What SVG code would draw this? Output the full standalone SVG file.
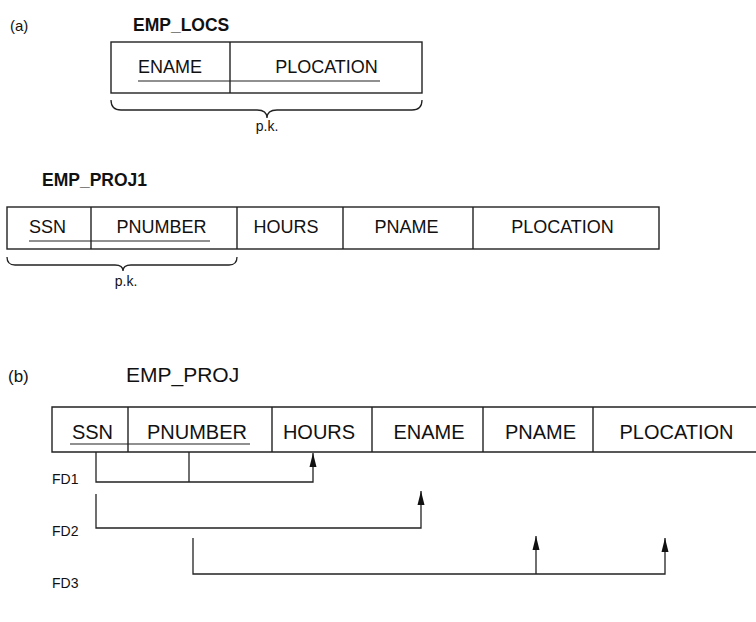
<svg xmlns="http://www.w3.org/2000/svg" width="756" height="622" viewBox="0 0 756 622">
<style>
  text { font-family: "Liberation Sans", Arial, sans-serif; fill: #111; }
  .title { font-weight: bold; font-size: 17.5px; }
  .lbl { font-size: 15px; }
  .a { font-size: 18px; text-anchor: middle; }
  .b { font-size: 20px; text-anchor: middle; }
  .fd { font-size: 14px; }
  .pk { font-size: 14px; text-anchor: middle; }
  .box { fill: none; stroke: #222; stroke-width: 1.4; }
  .ul { fill: none; stroke: #222; stroke-width: 1.2; }
  .conn { fill: none; stroke: #222; stroke-width: 1.3; }
</style>
<defs>
  <marker id="arr" viewBox="0 0 14 8" markerWidth="14" markerHeight="8" refX="14" refY="4" orient="auto" markerUnits="userSpaceOnUse">
    <path d="M0,0.5 L14,4 L0,7.5 z" fill="#111"/>
  </marker>
</defs>
<rect width="756" height="622" fill="#fff"/>

<text class="lbl" x="10" y="31">(a)</text>
<text class="lbl" x="8" y="382" style="font-size:17px">(b)</text>

<g id="emp_locs">
  <text class="title" x="133" y="31">EMP_LOCS</text>
  <rect class="box" x="111" y="42" width="311" height="51"/>
  <line class="box" x1="230" y1="42" x2="230" y2="93"/>
  <text class="a" x="170" y="73">ENAME</text>
  <text class="a" x="326.5" y="73">PLOCATION</text>
  <line class="ul" x1="138" y1="81" x2="380" y2="81"/>
  <path class="conn" d="M111,100 Q111,110 121,110 L257,110 Q267,110 267,118 Q267,110 277,110 L412,110 Q422,110 422,100"/>
  <text class="pk" x="267" y="131">p.k.</text>
</g>

<g id="emp_proj1">
  <text class="title" x="42" y="186">EMP_PROJ1</text>
  <rect class="box" x="7" y="207" width="652" height="42"/>
  <line class="box" x1="91" y1="207" x2="91" y2="249"/>
  <line class="box" x1="237" y1="207" x2="237" y2="249"/>
  <line class="box" x1="343" y1="207" x2="343" y2="249"/>
  <line class="box" x1="473" y1="207" x2="473" y2="249"/>
  <text class="a" x="47.5" y="233">SSN</text>
  <text class="a" x="161.5" y="233">PNUMBER</text>
  <text class="a" x="286" y="233">HOURS</text>
  <text class="a" x="406.5" y="233">PNAME</text>
  <text class="a" x="562.5" y="233">PLOCATION</text>
  <line class="ul" x1="29" y1="241" x2="210" y2="241"/>
  <path class="conn" d="M7,257 Q7,265 15,265 L115,265 Q123,265 123,271 Q123,265 131,265 L229,265 Q237,265 237,257"/>
  <text class="pk" x="126" y="286">p.k.</text>
</g>

<g id="emp_proj">
  <text x="126" y="382" style="font-size:21px">EMP_PROJ</text>
  <path class="box" d="M758,407 H52 V452 H758"/>
  <line class="box" x1="128" y1="407" x2="128" y2="452"/>
  <line class="box" x1="272" y1="407" x2="272" y2="452"/>
  <line class="box" x1="372" y1="407" x2="372" y2="452"/>
  <line class="box" x1="483" y1="407" x2="483" y2="452"/>
  <line class="box" x1="593" y1="407" x2="593" y2="452"/>
  <text class="b" x="92.5" y="439">SSN</text>
  <text class="b" x="197" y="439">PNUMBER</text>
  <text class="b" x="319" y="439">HOURS</text>
  <text class="b" x="429" y="439">ENAME</text>
  <text class="b" x="540.5" y="439">PNAME</text>
  <text class="b" x="676.5" y="439">PLOCATION</text>
  <line class="ul" x1="70" y1="444" x2="250" y2="444"/>
</g>

<g id="fd_labels">
  <text class="fd" x="52" y="484">FD1</text>
  <text class="fd" x="52" y="536">FD2</text>
  <text class="fd" x="52" y="588">FD3</text>
</g>

<g id="connectors">
  <path class="conn" d="M96,452 V482 H313 V453" marker-end="url(#arr)"/>
  <path class="conn" d="M189,452 V482"/>
  <path class="conn" d="M96,494 V528 H421 V491" marker-end="url(#arr)"/>
  <path class="conn" d="M193,538 V574 H665 V538" marker-end="url(#arr)"/>
  <path class="conn" d="M536,574 V536" marker-end="url(#arr)"/>
</g>
</svg>
